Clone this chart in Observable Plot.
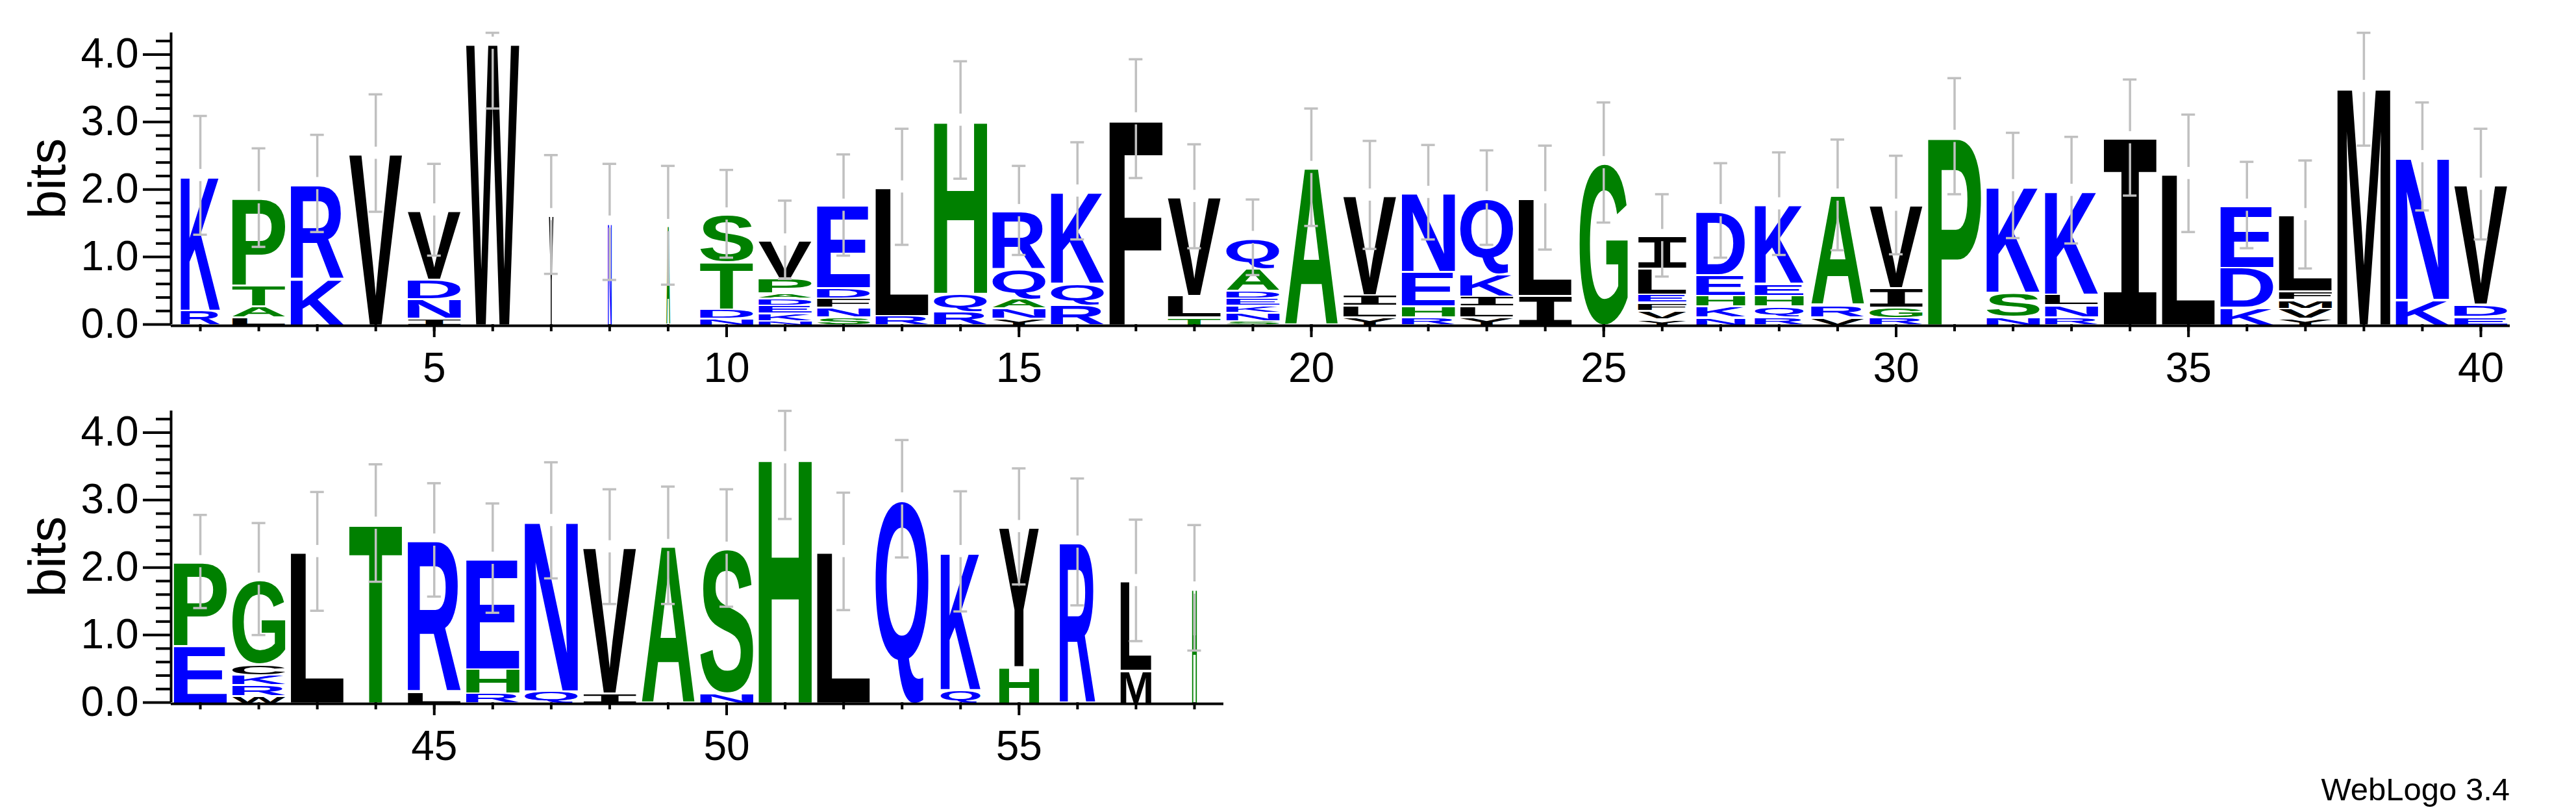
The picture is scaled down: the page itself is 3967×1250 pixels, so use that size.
<!DOCTYPE html>
<html>
<head>
<meta charset="utf-8">
<script src="https://cdn.jsdelivr.net/npm/d3@7"></script>
<script src="https://cdn.jsdelivr.net/npm/@observablehq/plot@0.6"></script>
<style>
html,body{margin:0;padding:0;background:#fff;}
#wrap{position:relative;width:3967px;height:1250px;overflow:hidden;background:#fff;}
#row1{position:absolute;left:0;top:0;}
#row2{position:absolute;left:0;top:620px;}
#caption{position:absolute;right:102px;top:1191px;font-family:"Liberation Sans",Arial,sans-serif;font-size:49px;line-height:49px;color:#000;white-space:nowrap;}
</style>
</head>
<body>
<div id="wrap"><div id="row1"></div><div id="row2"></div><div id="caption">WebLogo 3.4</div></div>
<script>
// ---------- data ----------
const row1Positions = [1,2,3,4,5,6,7,8,9,10,11,12,13,14,15,16,17,18,19,20,21,22,23,24,25,26,27,28,29,30,31,32,33,34,35,36,37,38,39,40];
// letters bottom -> top, [residue, bits]
const row1Stacks = [
 [["R",.22],["K",1.99]],
 [["L",.12],["A",.16],["T",.31],["P",1.29]],
 [["K",.69],["R",1.40]],
 [["V",2.54]],
 [["I",.10],["N",.29],["D",.29],["V",1.02]],
 [["W",4.17]],
 [["Y",1.63]],
 [["N",1.52]],
 [["A",1.47]],
 [["N",.10],["D",.14],["T",.70],["S",.70]],
 [["N",.065],["K",.11],["E",.12],["D",.10],["A",.08],["P",.22],["V",.56]],
 [["S",.12],["N",.14],["F",.14],["D",.15],["E",1.22]],
 [["R",.14],["L",1.90]],
 [["R",.20],["Q",.27],["H",2.56]],
 [["Y",.10],["N",.15],["A",.14],["Q",.44],["R",.86]],
 [["R",.30],["Q",.32],["K",1.36]],
 [["F",3.05]],
 [["T",.12],["L",.32],["V",1.46]],
 [["S",.064],["N",.122],["K",.106],["E",.11],["D",.11],["A",.33],["Q",.45]],
 [["A",2.33]],
 [["Y",.12],["L",.17],["I",.16],["V",1.47]],
 [["R",.12],["H",.16],["E",.51],["N",1.17]],
 [["Y",.12],["L",.16],["I",.15],["K",.33],["Q",1.12]],
 [["I",.44],["L",1.44]],
 [["G",2.40]],
 [["Y",.09],["V",.13],["F",.12],["E",.12],["L",.38],["I",.48]],
 [["N",.12],["K",.16],["H",.16],["E",.31],["D",.94]],
 [["R",.12],["Q",.16],["H",.16],["E",.18],["K",1.17]],
 [["V",.12],["R",.18],["A",1.62]],
 [["R",.11],["G",.15],["I",.29],["V",1.22]],
 [["P",2.79]],
 [["N",.13],["S",.36],["K",1.57]],
 [["R",.12],["N",.18],["L",.16],["K",1.53]],
 [["I",2.77]],
 [["L",2.24]],
 [["K",.26],["D",.59],["E",.92]],
 [["Y",.10],["V",.15],["M",.13],["F",.13],["L",1.12]],
 [["M",3.53]],
 [["K",.38],["N",2.11]],
 [["E",.13],["D",.18],["V",1.77]]
];
const row1Errors = [.88,.73,.72,.87,.68,.97,.88,.86,.88,.65,.58,.75,.86,.87,.66,.72,.88,.77,.56,.87,.80,.70,.70,.77,.89,.61,.70,.76,.82,.73,.86,.78,.79,.86,.87,.64,.80,.88,.80,.82];
const row1Widths = [.74,1,1,1,1,1,.085,.07,.07,1,1,1,1,1,1,1,1,1,1,1,1,1,1,1,.91,.91,.92,.92,1,1,1,1,1,1,1,1,1,1,1,1];
const row1TickLabels = [5,10,15,20,25,30,35,40];

const row2Positions = [41,42,43,44,45,46,47,48,49,50,51,52,53,54,55,56,57,58];
const row2Stacks = [
 [["E",.85],["P",1.24]],
 [["W",.11],["R",.16],["K",.15],["C",.16],["G",1.25]],
 [["L",2.24]],
 [["T",2.66]],
 [["L",.17],["R",2.24]],
 [["R",.15],["H",.36],["E",1.63]],
 [["Q",.18],["N",2.52]],
 [["I",.15],["V",2.16]],
 [["A",2.33]],
 [["N",.15],["S",2.14]],
 [["H",3.63]],
 [["L",2.24]],
 [["Q",3.02]],
 [["Q",.20],["K",2.04]],
 [["H",.54],["Y",2.07]],
 [["R",2.38]],
 [["M",.49],["L",1.32]],
 [["H",1.70]]
];
const row2Errors = [.69,.83,.88,.87,.84,.81,.86,.85,.87,.87,.91,.87,.87,.89,.86,.94,.90,.93];
const row2Widths = [1,1,1,1,1,1,1,1,1,1,1,1,1,.75,.75,.67,.58,.09];
const row2TickLabels = [45,50,55];

const yMajorTicks = [0,1,2,3,4];
const yMinorTicks = [0.2,0.4,0.6,0.8,1.2,1.4,1.6,1.8,2.2,2.4,2.6,2.8,3.2,3.4,3.6,3.8,4.2];
const yLabel = "bits";

// WebLogo "hydrophobicity" colour scheme
const groupNames = ["hydrophilic","neutral","hydrophobic"];
const groupResidues = ["RKDENQ","SGHTAP","YVMCLFIW"];
const groupColors = ["#0000ff","#008000","#000000"];

const maxBits = Math.log2(20);
const errColor = "#c0c0c0";
const letterFill = 0.908;
const errGap = 0.09;
const capHalf = 0.117;

function groupOf(letter){
  const i = groupResidues.findIndex(s => s.includes(letter));
  return groupNames[i];
}

function scaleFn(chart, name){
  const s = chart.scale(name);
  if (s && typeof s.apply === "function") return v => s.apply(v);
  return d3.scaleLinear(s.domain, s.range);
}

const canvas = document.createElement("canvas");
const ctx = canvas.getContext("2d");

function buildRow(positions, stacks, errors, widths, tickLabels, opts){
  const letters = [];
  const tops = [];
  positions.forEach((p, i) => {
    let y = 0;
    for (const [L, h] of stacks[i]) {
      letters.push({pos: p, letter: L, y1: y, y2: y + h, frac: widths[i], group: groupOf(L)});
      y += h;
    }
    tops.push({pos: p, top: y, err: errors[i]});
  });
  const xDomain = [d3.min(positions) - 0.5, d3.max(positions) + 0.5];
  const axisStyle = {fontSize: 64, strokeWidth: 4, label: null};
  const errStyle = {stroke: errColor, strokeWidth: 3.5};
  const chart = Plot.plot({
    width: opts.width, height: opts.height,
    marginLeft: 263, marginRight: opts.marginRight,
    marginTop: opts.marginTop, marginBottom: opts.marginBottom,
    x: {domain: xDomain, label: null},
    y: {domain: [0, maxBits], label: null},
    color: {domain: groupNames, range: groupColors},
    style: {background: "#fff", fontFamily: '"Liberation Sans", Arial, sans-serif', fontSize: "64px", overflow: "visible"},
    marks: [
      Plot.text(letters, {x: "pos", y: "y1", text: "letter", fill: "group", ariaDescription: "logo-letters"}),
      Plot.ruleX(tops, {x: "pos", y1: d => d.top + errGap, y2: d => Math.min(maxBits, d.top + d.err), ...errStyle}),
      Plot.ruleX(tops, {x: "pos", y1: d => Math.max(0, d.top - d.err), y2: d => d.top - errGap, ...errStyle}),
      Plot.ruleY(tops, {y: d => Math.min(maxBits, d.top + d.err), x1: d => d.pos - capHalf, x2: d => d.pos + capHalf, ...errStyle}),
      Plot.ruleY(tops, {y: d => Math.max(0, d.top - d.err), x1: d => d.pos - capHalf, x2: d => d.pos + capHalf, ...errStyle}),
      Plot.ruleY([0], {dy: 2, strokeWidth: 4}),
      Plot.ruleX([xDomain[0]], {strokeWidth: 4}),
      Plot.axisY({...axisStyle, ticks: yMajorTicks, tickSize: 43, tickPadding: 7, tickFormat: ".1f"}),
      Plot.axisY({...axisStyle, ticks: yMinorTicks, tickSize: 23, tickFormat: () => ""}),
      Plot.axisX({...axisStyle, ticks: positions, tickSize: 11, tickFormat: () => ""}),
      Plot.axisX({...axisStyle, ticks: tickLabels, tickSize: 20, tickPadding: 23, tickFormat: d => String(d)}),
      Plot.text([yLabel], {text: d => d, frameAnchor: "left", rotate: -90, textAnchor: "middle", dx: -189, fontSize: 80})
    ]
  });

  // scale each glyph so its ink fills its (position, bits) box, as WebLogo does
  const xs = scaleFn(chart, "x"), ys = scaleFn(chart, "y");
  const nodes = d3.select(chart).selectAll('g[aria-description="logo-letters"] text').nodes();
  const FS = 200;
  nodes.forEach((el, i) => {
    const d = letters[i];
    if (!d) return;
    const fam = d.letter === "I" ? '"DejaVu Sans Mono"' : '"Liberation Sans"';
    ctx.font = `bold ${FS}px ${fam}`;
    const m = ctx.measureText(d.letter);
    const L = m.actualBoundingBoxLeft, R = m.actualBoundingBoxRight;
    const A = m.actualBoundingBoxAscent, D = m.actualBoundingBoxDescent;
    const colW = xs(d.pos + 0.5) - xs(d.pos - 0.5);
    const w = colW * letterFill * d.frac;
    const cx = xs(d.pos);
    const yb = ys(d.y1);
    let yt = ys(d.y2);
    const hpx = yb - yt;
    yt += Math.min(3, hpx * 0.35);
    const sx = w / (L + R), sy = (yb - yt) / (A + D);
    const tx = cx - w / 2 + L * sx, ty = yb - D * sy;
    el.removeAttribute("dy");
    el.setAttribute("x", 0);
    el.setAttribute("y", 0);
    el.setAttribute("text-anchor", "start");
    el.setAttribute("transform", `translate(${tx},${ty}) scale(${sx},${sy})`);
    el.style.fontSize = FS + "px";
    el.style.fontFamily = fam;
    el.style.fontWeight = "bold";
  });
  return chart;
}

document.getElementById("row1").appendChild(
  buildRow(row1Positions, row1Stacks, row1Errors, row1Widths, row1TickLabels,
    {width: 3967, height: 620, marginRight: 102, marginTop: 50, marginBottom: 121}));
document.getElementById("row2").appendChild(
  buildRow(row2Positions, row2Stacks, row2Errors, row2Widths, row2TickLabels,
    {width: 1950, height: 630, marginRight: 66, marginTop: 12, marginBottom: 169}));
</script>
</body>
</html>
